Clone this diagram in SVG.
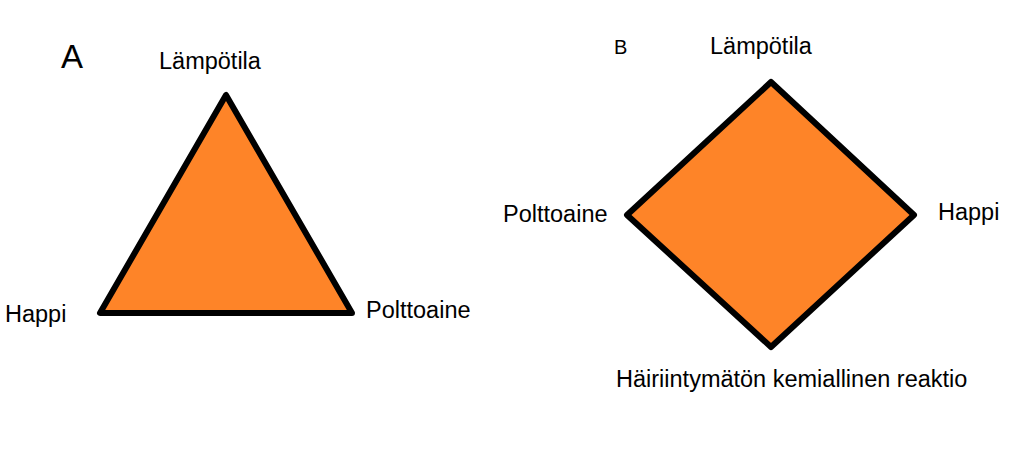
<svg xmlns="http://www.w3.org/2000/svg" width="1024" height="449" viewBox="0 0 1024 449">
<style>
.shape{fill:#fe8428;stroke:#000;stroke-width:6;stroke-linejoin:round}
text{font-family:"Liberation Sans",Arial,sans-serif;fill:#000}
.lbl{font-size:23.5px}
</style>
<rect width="1024" height="449" fill="#fff"/>
<g id="panelA">
<text x="61" y="68" font-size="33">A</text>
<g id="triangle"><polygon class="shape" points="226,95 100,313 352,313"/></g>
<g id="a-lampotila"><text class="lbl" x="159" y="69">Lämpötila</text></g>
<g id="a-happi"><text class="lbl" x="5" y="322">Happi</text></g>
<g id="a-polttoaine"><text class="lbl" x="366" y="318">Polttoaine</text></g>
</g>
<g id="panelB">
<text x="614" y="54" font-size="20">B</text>
<g id="diamond"><polygon class="shape" points="771,82 914,215 771,347 627,215"/></g>
<g id="b-lampotila"><text class="lbl" x="710" y="54">Lämpötila</text></g>
<g id="b-polttoaine"><text class="lbl" x="503" y="222">Polttoaine</text></g>
<g id="b-happi"><text class="lbl" x="938" y="220">Happi</text></g>
<g id="b-reaktio"><text class="lbl" x="616" y="387">Häiriintymätön kemiallinen reaktio</text></g>
</g>
<g id="connectors"/>
</svg>
